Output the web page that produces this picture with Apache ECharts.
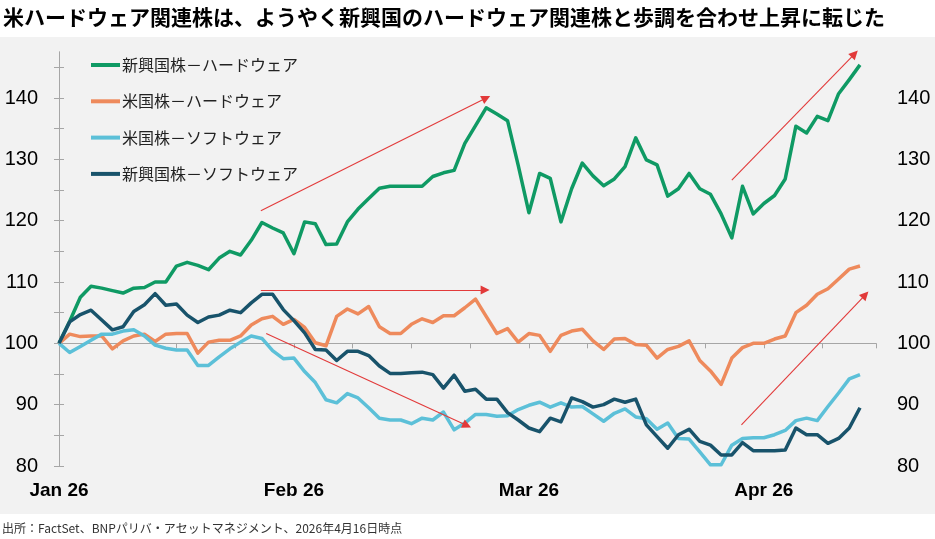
<!DOCTYPE html>
<html>
<head>
<meta charset="utf-8">
<script src="https://cdn.jsdelivr.net/npm/echarts@6/dist/echarts.min.js"></script>
<style>
  html, body { margin: 0; padding: 0; background: #fff; }
  #main { width: 935px; height: 539px; }
</style>
</head>
<body>
<div id="main"></div>
<script>
// 営業日ベース（0 = 起点 100）
var monthLabels = ['Jan 26', 'Feb 26', 'Mar 26', 'Apr 26']
var monthIdx = [0, 22, 44, 66]

var seriesNames = ['新興国株－ハードウェア', '米国株－ハードウェア', '米国株－ソフトウェア', '新興国株－ソフトウェア']

var emHard = [100, 103.6, 107.5, 109.3, 109.0, 108.6, 108.2, 109.0, 109.1, 110.0,
  110.0, 112.6, 113.2, 112.7, 112.0, 113.9, 115.0, 114.4, 116.8, 119.7,
  118.8, 118.0, 114.6, 119.8, 119.5, 116.1, 116.2, 119.8, 121.9, 123.6,
  125.3, 125.6, 125.6, 125.6, 125.6, 127.2, 127.8, 128.2, 132.6, 135.5,
  138.4, 137.4, 136.3, 129.0, 121.3, 127.7, 126.9, 119.8, 125.2, 129.4,
  127.3, 125.7, 126.8, 128.8, 133.5, 129.9, 129.1, 124.0, 125.2, 127.7,
  125.2, 124.3, 121.1, 117.2, 125.6, 121.1, 122.8, 124.1, 126.8, 135.4,
  134.3, 137.0, 136.3, 140.7, 143.0, 145.4]

var usHard = [100, 101.5, 101.1, 101.2, 101.2, 99.1, 100.4, 101.2, 101.5, 100.3,
  101.5, 101.6, 101.6, 98.4, 100.2, 100.5, 100.5, 101.2, 103.0, 104.0,
  104.4, 103.1, 103.9, 102.6, 100.1, 99.6, 104.4, 105.6, 104.8, 106.0,
  102.7, 101.6, 101.6, 103.1, 104.0, 103.4, 104.5, 104.5, 105.8, 107.2,
  104.4, 101.6, 102.4, 100.2, 101.6, 101.3, 98.7, 101.3, 102.0, 102.3,
  100.4, 99.0, 100.7, 100.8, 99.8, 99.7, 97.6, 99.0, 99.5, 100.4,
  97.2, 95.5, 93.3, 97.6, 99.3, 100.0, 100.0, 100.7, 101.2, 105.0,
  106.2, 108.0, 108.9, 110.5, 112.1, 112.6]

var usSoft = [100, 98.5, 99.5, 100.5, 101.5, 101.5, 102.0, 102.2, 101.2, 99.7,
  99.2, 98.9, 98.9, 96.4, 96.4, 97.8, 99.1, 100.2, 101.2, 100.8,
  98.8, 97.5, 97.6, 95.4, 93.6, 90.8, 90.3, 91.8, 91.1, 89.5,
  87.8, 87.5, 87.5, 86.9, 87.8, 87.5, 88.8, 85.9, 87.0, 88.4,
  88.4, 88.1, 88.2, 89.2, 89.9, 90.4, 89.6, 90.3, 89.6, 89.7,
  88.5, 87.3, 88.6, 89.3, 88.0, 87.7, 86.0, 87.0, 84.5, 84.4,
  82.3, 80.2, 80.2, 83.4, 84.5, 84.6, 84.6, 85.1, 85.8, 87.4,
  87.8, 87.4, 89.7, 91.9, 94.2, 94.9]

var emSoft = [100, 103.5, 104.7, 105.4, 103.8, 102.2, 102.7, 105.2, 106.3, 108.1,
  106.2, 106.4, 104.6, 103.4, 104.3, 104.6, 105.4, 105.0, 106.6, 108.0,
  108.0, 105.5, 103.7, 101.7, 99.0, 98.9, 97.2, 98.7, 98.7, 98.0,
  96.3, 95.1, 95.1, 95.2, 95.3, 94.9, 92.7, 94.8, 92.2, 92.5,
  90.9, 90.9, 88.7, 87.5, 86.2, 85.6, 87.8, 87.2, 91.1, 90.5,
  89.6, 90.0, 90.9, 90.4, 90.9, 86.7, 84.8, 82.9, 85.1, 86.0,
  84.0, 83.4, 81.8, 81.8, 83.8, 82.5, 82.5, 82.5, 82.6, 86.2,
  85.1, 85.1, 83.7, 84.5, 86.2, 89.5]

var colors = ['#0f9a64', '#ee8a5c', '#5cc0d8', '#18536b']

// 矢印 [始点, 終点] （x = 営業日インデックス, y = 指数）
var arrows = [
  [[18.9, 121.6], [40.0, 140.0]],
  [[18.9, 108.7], [39.9, 108.7]],
  [[19.4, 101.6], [38.2, 86.6]],
  [[63.0, 126.6], [74.5, 147.2]],
  [[63.9, 86.7], [75.5, 107.9]]
]

var yMin = 80, yMax = 147.5
var gridTop = 52, gridBottom = 73
var chartH = 539
var plotH = chartH - gridTop - gridBottom
var baseOffset = -plotH * (100 - yMin) / (yMax - yMin)

var toPairs = function(arr) {
  var out = []
  for (var i = 0; i < arr.length; i++) {
    out.push([i, arr[i]])
  }
  return out
}

var monthFormatter = function(v) {
  for (var k = 0; k < monthIdx.length; k++) {
    if (Math.abs(v - monthIdx[k]) < 0.01) return monthLabels[k]
  }
  return ''
}

var yFormatter = function(v) {
  return Math.abs(v % 10) < 0.01 ? String(v) : ''
}

var axisGray = '#a6a6a6'
var numFont = "'Liberation Sans', Arial, sans-serif"
var jpFont = "'Noto Sans CJK JP', sans-serif"

var allData = [emHard, usHard, usSoft, emSoft]
var series = []
for (var s = 0; s < allData.length; s++) {
  series.push({
    name: seriesNames[s],
    type: 'line',
    data: toPairs(allData[s]),
    xAxisIndex: 0,
    yAxisIndex: 0,
    showSymbol: false,
    symbol: 'none',
    lineStyle: { width: 3.5, color: colors[s], join: 'round' },
    itemStyle: { color: colors[s] },
    z: 2 + s
  })
}

var arrowData = []
for (var a = 0; a < arrows.length; a++) {
  arrowData.push([{ coord: arrows[a][0] }, { coord: arrows[a][1] }])
}
series[0].markLine = {
  silent: true,
  symbol: ['none', 'triangle'],
  symbolSize: 9,
  label: { show: false },
  lineStyle: { color: '#e23a3a', width: 1.1, type: 'solid' },
  itemStyle: { color: '#e8161b' },
  emphasis: { disabled: true },
  animation: false,
  data: arrowData
}

var yAxisBase = function(pos) {
  return {
    type: 'value',
    position: pos,
    min: yMin,
    max: yMax,
    interval: 5,
    axisLine: { show: true, lineStyle: { color: axisGray, width: 1 } },
    axisTick: { show: true, length: 5, lineStyle: { color: axisGray } },
    splitLine: { show: false },
    axisLabel: {
      formatter: yFormatter,
      showMaxLabel: false,
      margin: 21,
      color: '#000',
      fontSize: 20,
      fontFamily: numFont
    }
  }
}

var mychart = echarts.init(document.getElementById('main'))
mychart.setOption({
  animation: false,
  backgroundColor: '#fff',
  graphic: [{
    type: 'rect',
    z: -10,
    shape: { x: 0, y: 37, width: 935, height: 477 },
    style: { fill: '#f2f2f2' }
  }],
  title: [{
    text: '米ハードウェア関連株は、ようやく新興国のハードウェア関連株と歩調を合わせ上昇に転じた',
    left: 3,
    top: 7,
    padding: 0,
    textStyle: { fontSize: 21, fontWeight: 'bold', color: '#000', fontFamily: jpFont }
  }, {
    text: '出所：FactSet、BNPパリバ・アセットマネジメント、2026年4月16日時点',
    left: 2,
    top: 522,
    padding: 0,
    textStyle: { fontSize: 12, fontWeight: 'normal', color: '#333', fontFamily: jpFont }
  }],
  legend: {
    orient: 'vertical',
    left: 91,
    top: 57,
    padding: 0,
    itemWidth: 29,
    itemHeight: 4,
    itemGap: 20.3,
    icon: 'rect',
    data: seriesNames,
    textStyle: { fontSize: 16, color: '#222', fontFamily: jpFont, padding: [0, 0, 0, -3] }
  },
  grid: { left: 59, right: 59, top: gridTop, bottom: gridBottom, containLabel: false },
  xAxis: [{
    type: 'value',
    position: 'bottom',
    min: 0,
    max: 76.5,
    interval: 5.5,
    axisLine: { show: false },
    axisTick: { show: false },
    splitLine: { show: false },
    axisLabel: {
      formatter: monthFormatter,
      showMaxLabel: false,
      margin: 15,
      color: '#000',
      fontSize: 19,
      fontWeight: 'bold',
      fontFamily: numFont
    }
  }, {
    type: 'value',
    position: 'bottom',
    offset: baseOffset,
    min: 0,
    max: 76.5,
    interval: 5.5,
    axisLine: { show: true, onZero: false, lineStyle: { color: axisGray, width: 1.2 } },
    axisTick: { show: true, length: 5, lineStyle: { color: axisGray } },
    splitLine: { show: false },
    axisLabel: { show: false }
  }],
  yAxis: [yAxisBase('left'), yAxisBase('right')],
  series: series
})
</script>
</body>
</html>
